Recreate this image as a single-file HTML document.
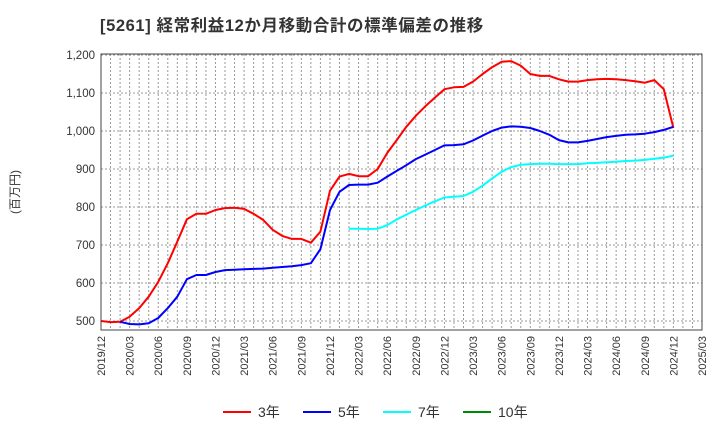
<!DOCTYPE html>
<html><head><meta charset="utf-8"><style>
body{margin:0;background:#fff;font-family:"Liberation Sans","Noto Sans CJK JP",sans-serif}
</style></head><body>
<svg id="c" width="720" height="440" xmlns="http://www.w3.org/2000/svg" font-family="'Liberation Sans','Noto Sans CJK JP',sans-serif">
<text x="100" y="31" font-size="16.5" font-weight="bold" letter-spacing="0.6" fill="#333">[5261]  経常利益12か月移動合計の標準偏差の推移</text>
<text transform="translate(19,192) rotate(-90)" text-anchor="middle" font-size="12" fill="#333">(百万円)</text>
<g id="grid"></g><g id="series"></g><g id="axes"></g>
<g font-size="14" fill="#333">
<line x1="223" y1="412" x2="251" y2="412" stroke="#f00" stroke-width="2"/><text x="258" y="417">3年</text>
<line x1="303" y1="412" x2="331" y2="412" stroke="#00f" stroke-width="2"/><text x="338" y="417">5年</text>
<line x1="383" y1="412" x2="411" y2="412" stroke="#0ff" stroke-width="2"/><text x="418" y="417">7年</text>
<line x1="463" y1="412" x2="491" y2="412" stroke="#080" stroke-width="2"/><text x="498" y="417">10年</text>
</g>
</svg>
<script>
const yTicks=[500,600,700,800,900,1000,1100,1200];
const xLabels=["2019/12","2020/03","2020/06","2020/09","2020/12","2021/03","2021/06","2021/09","2021/12","2022/03","2022/06","2022/09","2022/12","2023/03","2023/06","2023/09","2023/12","2024/03","2024/06","2024/09","2024/12","2025/03"];
const red=[500,497,498,511,534,564,603,652,709,768,782,782,792,797,798,795,782,766,740,724,716,716,706,735,843,880,887,881,881,900,942,976,1011,1040,1065,1088,1110,1115,1116,1130,1150,1168,1182,1184,1172,1150,1145,1145,1136,1130,1130,1134,1136,1137,1136,1134,1131,1127,1134,1110,1008];
const blue=[null,null,498,492,491,494,508,534,564,610,621,621,629,634,635,636,637,638,640,642,644,647,652,689,792,840,858,859,859,864,880,895,910,926,938,950,962,963,965,975,988,1000,1009,1012,1011,1008,1000,990,976,970,970,974,979,984,987,990,991,993,997,1003,1011];
const cyan=[null,null,null,null,null,null,null,null,null,null,null,null,null,null,null,null,null,null,null,null,null,null,null,null,null,null,743,743,742,743,752,767,780,792,804,815,825,827,829,840,856,875,893,905,911,913,914,914,913,913,913,915,916,918,919,921,922,924,927,930,935];
</script>
<script>
(function(){
const ns="http://www.w3.org/2000/svg";
const L=101,R=702,T=54,B=330,months=63;
const x=i=>L+(R-L)*i/months;
const y=v=>321-(v-500)*0.38;
function mk(t,a,p){const e=document.createElementNS(ns,t);for(const k in a)e.setAttribute(k,a[k]);p.appendChild(e);return e;}
const g=document.getElementById('grid'),ax=document.getElementById('axes'),s=document.getElementById('series');
for(let i=1;i<months;i++){const l=mk('line',{x1:x(i),x2:x(i),y1:T,y2:B,stroke:'#999','stroke-dasharray':'2,2','stroke-width':1},g);}
yTicks.forEach(v=>{const l=mk('line',{x1:L,x2:R,y1:y(v),y2:y(v),stroke:'#999','stroke-dasharray':'2,2','stroke-width':1},g);
const t=mk('text',{x:L-6,y:y(v)+4,'text-anchor':'end','font-size':11.5,fill:'#333'},ax);t.textContent=v.toLocaleString('en-US');});
xLabels.forEach((lb,k)=>{const xi=x(k*3);const t=mk('text',{transform:`translate(${xi+4},${B+6}) rotate(-90)`,'text-anchor':'end','font-size':11,fill:'#333'},ax);t.textContent=lb;});
const fr=mk('rect',{x:L,y:T,width:R-L,height:B-T,fill:'none',stroke:'#444','stroke-width':1},ax);
[[red,'#f00','series-3yr'],[blue,'#00f','series-5yr'],[cyan,'#0ff','series-7yr']].forEach(([d,c,n])=>{let pts=[];d.forEach((v,i)=>{if(v!=null)pts.push(x(i).toFixed(1)+','+y(v).toFixed(1));});
const p=mk('polyline',{points:pts.join(' '),fill:'none',stroke:c,'stroke-width':2,'stroke-linejoin':'round'},s);});
})();
</script>
</body></html>
